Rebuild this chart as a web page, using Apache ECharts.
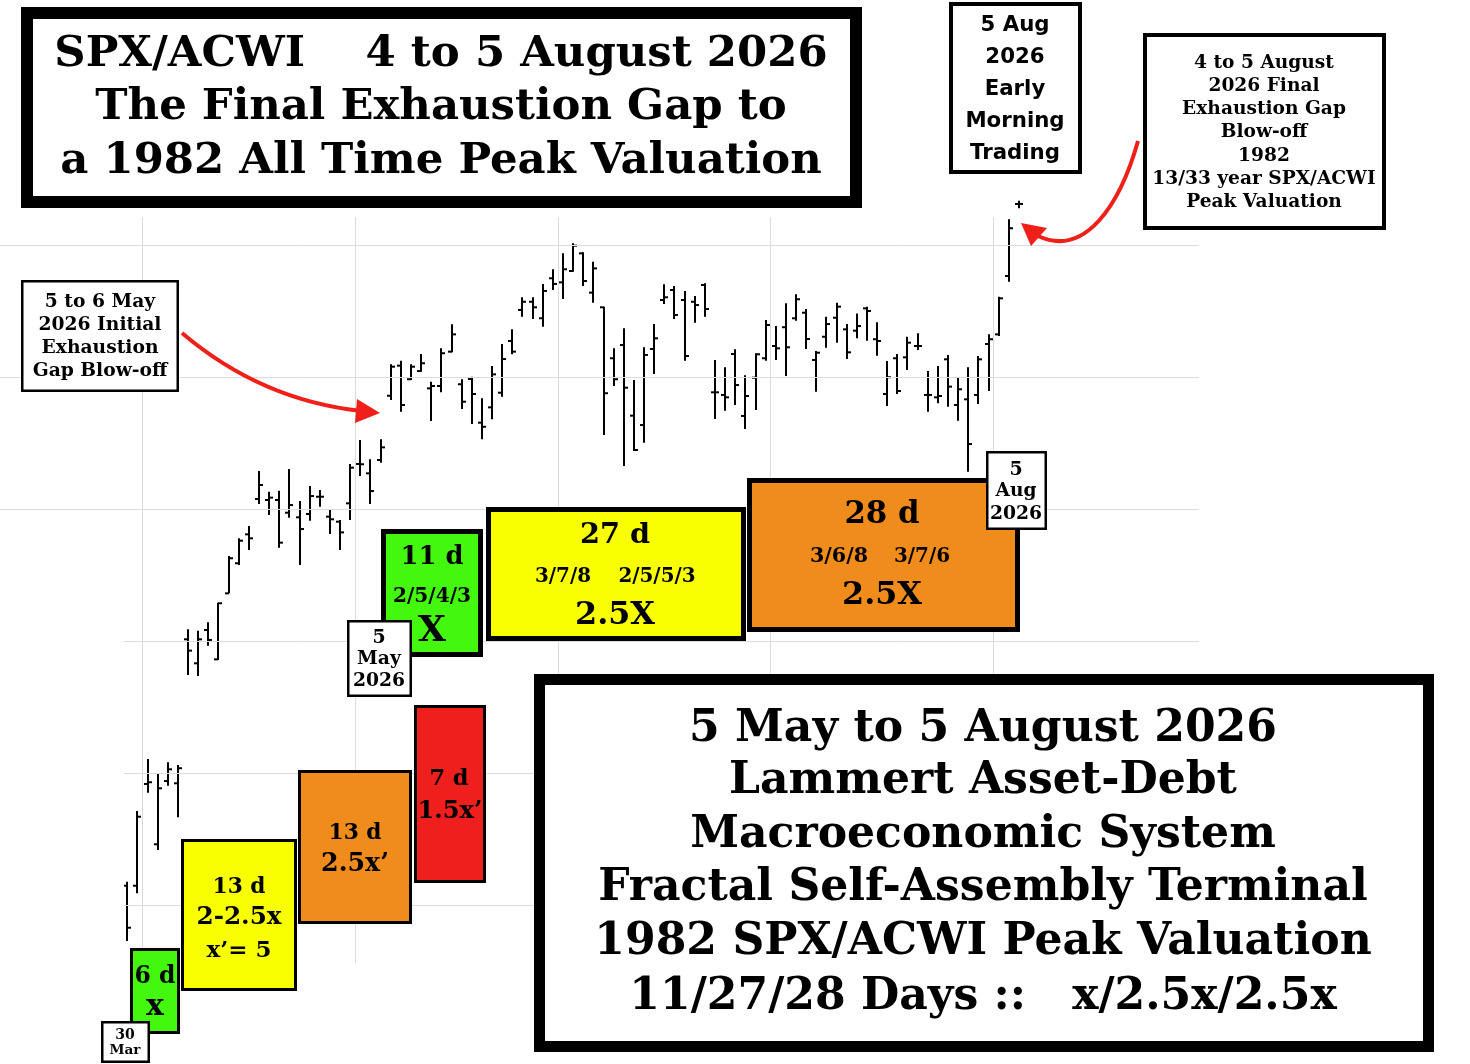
<!DOCTYPE html>
<html>
<head>
<meta charset="utf-8">
<script src="https://cdn.jsdelivr.net/npm/echarts@6/dist/echarts.min.js"></script>
<style>
html,body{margin:0;padding:0;background:#fff;}
#chart{width:1470px;height:1064px;}
</style>
</head>
<body>
<div id="chart"></div>
<script>
// ---- DATA (SPX/ACWI ratio, daily OHLC) ----
const dates = [
'2026-03-30','2026-03-31',
'2026-04-01','2026-04-02','2026-04-06','2026-04-07','2026-04-08','2026-04-09','2026-04-10','2026-04-13','2026-04-14','2026-04-15','2026-04-16','2026-04-17','2026-04-20','2026-04-21','2026-04-22','2026-04-23','2026-04-24','2026-04-27','2026-04-28','2026-04-29','2026-04-30',
'2026-05-01','2026-05-04','2026-05-05','2026-05-06','2026-05-07','2026-05-08','2026-05-11','2026-05-12','2026-05-13','2026-05-14','2026-05-15','2026-05-18','2026-05-19','2026-05-20','2026-05-21','2026-05-22','2026-05-26','2026-05-27','2026-05-28','2026-05-29',
'2026-06-01','2026-06-02','2026-06-03','2026-06-04','2026-06-05','2026-06-08','2026-06-09','2026-06-10','2026-06-11','2026-06-12','2026-06-15','2026-06-16','2026-06-17','2026-06-18','2026-06-22','2026-06-23','2026-06-24','2026-06-25','2026-06-26','2026-06-29','2026-06-30',
'2026-07-01','2026-07-02','2026-07-06','2026-07-07','2026-07-08','2026-07-09','2026-07-10','2026-07-13','2026-07-14','2026-07-15','2026-07-16','2026-07-17','2026-07-20','2026-07-21','2026-07-22','2026-07-23','2026-07-24','2026-07-27','2026-07-28','2026-07-29','2026-07-30','2026-07-31',
'2026-08-03','2026-08-04','2026-08-05'
];
const open = [
51.146,51.146,51.917,51.460,51.939,51.922,53.013,52.831,53.083,52.861,
53.361,53.589,53.808,54.076,54.068,54.068,53.972,53.937,53.962,54.093,
53.942,53.904,54.043,54.341,54.270,54.371,54.858,55.086,54.983,55.045,
54.914,54.932,55.192,54.945,54.985,54.654,54.770,54.881,55.273,55.508,
55.570,55.445,55.748,55.717,55.803,55.937,55.639,55.528,55.142,55.242,
54.707,54.636,55.212,55.583,55.659,55.583,55.570,55.697,54.884,54.864,
55.174,54.705,54.995,55.142,55.235,55.377,55.445,55.487,55.129,55.305,
55.449,55.361,55.351,55.520,55.286,54.871,55.142,55.149,55.235,54.864,
54.846,55.134,54.788,54.831,54.864,55.250,55.323,55.765,56.311
];
const high = [
51.176,51.712,52.106,51.998,52.081,52.061,53.089,53.078,53.142,53.290,
53.644,53.778,53.871,54.288,54.131,54.139,54.303,54.061,54.174,54.144,
53.998,53.917,54.341,54.523,54.377,54.528,55.096,55.123,55.096,55.174,
54.964,55.217,55.399,54.983,55.002,54.839,55.083,55.250,55.361,55.604,
55.604,55.705,55.816,55.937,56.013,55.945,55.873,55.533,55.217,55.369,
54.977,55.225,55.401,55.702,55.689,55.652,55.614,55.710,55.129,55.073,
55.210,55.013,55.180,55.432,55.386,55.558,55.627,55.515,55.197,55.457,
55.563,55.401,55.482,55.533,55.414,55.121,55.174,55.305,55.331,55.045,
55.083,55.167,54.995,55.073,55.159,55.323,55.608,56.195,56.336
];
const low = [
50.727,51.089,51.851,51.417,51.904,51.664,52.742,52.735,52.964,52.856,
53.361,53.576,53.689,54.038,53.955,53.707,53.934,53.576,53.911,54.017,
53.811,53.689,53.917,54.250,54.038,54.351,54.826,54.737,54.977,55.040,
54.667,54.884,55.187,54.758,54.644,54.528,54.680,54.851,55.172,55.457,
55.439,55.381,55.659,55.591,55.798,55.689,55.563,54.561,54.932,54.326,
54.439,54.502,55.023,55.553,55.439,55.123,55.411,55.457,54.682,54.745,
54.788,54.606,54.750,55.123,55.129,55.008,55.427,55.212,54.889,55.222,
55.260,55.136,55.293,55.275,55.161,54.780,54.871,55.053,55.205,54.737,
54.801,54.775,54.669,54.283,54.795,54.894,55.311,55.722,56.278
];
const close = [
50.828,51.669,51.930,51.884,52.028,52.036,52.927,53.013,53.008,53.286,
53.627,53.760,53.778,54.182,54.086,53.745,54.030,53.848,54.098,54.093,
53.922,53.823,54.313,54.339,54.136,54.467,55.078,54.788,55.078,55.104,
54.932,55.180,55.323,54.813,54.871,54.623,55.020,55.136,55.192,55.570,
55.528,55.652,55.705,55.816,55.995,55.727,55.823,54.877,54.983,54.919,
54.447,55.167,55.293,55.604,55.470,55.159,55.545,55.515,54.884,54.846,
54.939,54.856,55.172,55.394,55.217,55.225,55.589,55.288,55.184,55.401,
55.533,55.187,55.386,55.500,55.273,54.998,54.894,55.260,55.235,54.864,
54.856,54.927,54.907,54.492,55.134,55.286,55.596,56.127,56.311
];
const gridLevels = [51, 52, 53, 54, 55, 56];

// ---- build ----
const seriesData = dates.map((d, i) => [i, open[i], high[i], low[i], close[i], d]);
const monthLines = [];
for (let i = 1; i < dates.length; i++) {
  if (dates[i].slice(5, 7) !== dates[i - 1].slice(5, 7)) monthLines.push({ xAxis: i - 0.5 });
}

const SERIF = "'DejaVu Serif', serif";
const SANS = "'DejaVu Sans', sans-serif";
const mctx = document.createElement('canvas').getContext('2d');
function fit(str, fam, w) {
  mctx.font = 'bold 100px ' + fam;
  return 100 * w / mctx.measureText(str).width;
}
function txt(str, x, y, size, fam, z) {
  return {
    type: 'text', x: x, y: y, z: z || 120, silent: true,
    style: {
      text: str, font: 'bold ' + size.toFixed(1) + 'px ' + fam, fill: '#000',
      align: 'center', verticalAlign: 'middle', textAlign: 'center', textVerticalAlign: 'middle'
    }
  };
}
function ftxt(str, x, y, w, fam, z) { return txt(str, x, y, fit(str, fam || SERIF, w), fam || SERIF, z); }
function box(x0, y0, x1, y1, t, fill, z) {
  return {
    type: 'rect', z: z || 100, silent: true,
    shape: { x: x0 + t / 2, y: y0 + t / 2, width: x1 - x0 - t, height: y1 - y0 - t },
    style: { fill: fill, stroke: '#000', lineWidth: t }
  };
}

const RED = '#ee2019';
const graphics = [];
// mask for lower-left grid lines
graphics.push({ type: 'rect', z: 50, silent: true, shape: { x: 0, y: 560, width: 124, height: 404 }, style: { fill: '#fff' } });

// Title
graphics.push(box(21, 7, 862, 208, 12, '#fff'));
const tS = fit('The Final Exhaustion Gap to', SERIF, 692);
graphics.push(txt('SPX/ACWI    4 to 5 August 2026', 441, 55, tS, SERIF));
graphics.push(txt('The Final Exhaustion Gap to', 441, 108, tS, SERIF));
graphics.push(txt('a 1982 All Time Peak Valuation', 441, 162, tS, SERIF));

// 5 Aug early morning box
graphics.push(box(949, 2, 1082, 174, 4, '#fff'));
const sS = fit('Morning', SANS, 99);
['5 Aug', '2026', 'Early', 'Morning', 'Trading'].forEach((s, k) => graphics.push(txt(s, 1015, 25 + k * 32, sS, SANS)));

// right box
graphics.push(box(1143, 33, 1386, 230, 4, '#fff'));
const rS = fit('Peak Valuation', SERIF, 156);
['4 to 5 August', '2026 Final', 'Exhaustion Gap', 'Blow-off', '1982', '13/33 year SPX/ACWI', 'Peak Valuation']
  .forEach((s, k) => graphics.push(txt(s, 1264, 63 + k * 23.2, rS, SERIF)));

// 5 to 6 May box
graphics.push(box(21, 280, 179, 392, 2.5, '#fff'));
const mS = fit('Exhaustion', SERIF, 117);
['5 to 6 May', '2026 Initial', 'Exhaustion', 'Gap Blow-off'].forEach((s, k) => graphics.push(txt(s, 100, 302 + k * 23, mS, SERIF)));

// arrows
graphics.push({ type: 'bezierCurve', z: 110, silent: true,
  shape: { x1: 182, y1: 333, cpx1: 235, cpy1: 378, cpx2: 295, cpy2: 404, x2: 362, y2: 411 },
  style: { stroke: RED, lineWidth: 4, fill: null } });
graphics.push({ type: 'polygon', z: 110, silent: true,
  shape: { points: [[380, 413], [357, 399], [355, 423]] }, style: { fill: RED } });
graphics.push({ type: 'bezierCurve', z: 110, silent: true,
  shape: { x1: 1138, y1: 141, cpx1: 1120, cpy1: 205, cpx2: 1085, cpy2: 258, x2: 1038, y2: 236 },
  style: { stroke: RED, lineWidth: 4, fill: null } });
graphics.push({ type: 'polygon', z: 110, silent: true,
  shape: { points: [[1021, 223], [1047, 228], [1031, 246]] }, style: { fill: RED } });

// middle coloured boxes
const GREEN = '#43f80e', YEL = '#f8ff00', ORG = '#f08c1c', RBOX = '#ee1f1c';
graphics.push(box(381, 529, 483, 657, 5, GREEN));
graphics.push(ftxt('11 d', 432, 557, 63));
graphics.push(ftxt('2/5/4/3', 432, 597, 78));
graphics.push(txt('X', 432, 632, 36, SERIF));
graphics.push(box(486, 507, 746, 641, 5, YEL));
graphics.push(ftxt('27 d', 615, 536, 70));
graphics.push(ftxt('3/7/8', 563, 577, 56));
graphics.push(ftxt('2/5/5/3', 657, 577, 77));
graphics.push(ftxt('2.5X', 615, 616, 80));
graphics.push(box(747, 478, 1020, 632, 5, ORG));
graphics.push(ftxt('28 d', 882, 515, 75));
graphics.push(ftxt('3/6/8', 839, 557, 58));
graphics.push(ftxt('3/7/6', 922, 557, 56));
graphics.push(ftxt('2.5X', 882, 596, 80));
graphics.push(box(347, 620, 412, 697, 2.5, '#fff', 130));
graphics.push(txt('5', 379, 638, 19, SERIF, 135));
graphics.push(ftxt('May', 379, 659, 44, SERIF, 135));
graphics.push(ftxt('2026', 379, 681, 52, SERIF, 135));
graphics.push(box(986, 451, 1047, 530, 2.5, '#fff', 130));
graphics.push(txt('5', 1016, 470, 19, SERIF, 135));
graphics.push(ftxt('Aug', 1016, 491, 41, SERIF, 135));
graphics.push(ftxt('2026', 1016, 514, 52, SERIF, 135));

// lower-left boxes
graphics.push(box(130, 948, 180, 1034, 3, GREEN));
graphics.push(ftxt('6 d', 155, 977, 41));
graphics.push(txt('x', 155, 1007, 30, SERIF));
graphics.push(box(101, 1021, 150, 1063, 2.5, '#fff', 130));
graphics.push(txt('30', 125, 1035, 14, SERIF, 135));
graphics.push(ftxt('Mar', 125, 1050, 31, SERIF, 135));
graphics.push(box(181, 839, 297, 991, 3, YEL));
graphics.push(ftxt('13 d', 239, 887, 53));
graphics.push(ftxt('2-2.5x', 239, 918, 85));
graphics.push(ftxt('x\u2019= 5', 239, 951, 65));
graphics.push(box(298, 770, 412, 924, 3, ORG));
graphics.push(ftxt('13 d', 355, 833, 53));
graphics.push(ftxt('2.5x\u2019', 355, 864, 68));
graphics.push(box(414, 705, 486, 883, 3, RBOX));
graphics.push(ftxt('7 d', 449, 779, 39));
graphics.push(ftxt('1.5x\u2019', 450, 812, 65));

// big bottom box
graphics.push(box(534, 674, 1434, 1052, 11, '#fff'));
const bS = fit('Fractal Self-Assembly Terminal', SERIF, 770);
['5 May to 5 August 2026', 'Lammert Asset-Debt', 'Macroeconomic System', 'Fractal Self-Assembly Terminal',
 '1982 SPX/ACWI Peak Valuation', '11/27/28 Days ::   x/2.5x/2.5x']
  .forEach((s, k) => graphics.push(txt(s, 983, [730, 782, 836, 889, 943, 998][k], bS, SERIF)));

const chart = echarts.init(document.getElementById('chart'));
chart.setOption({
  animation: false,
  backgroundColor: '#fff',
  grid: { left: 0, right: 271, top: 217, bottom: 101 },
  xAxis: { type: 'value', min: -12.563, max: 105.77, show: false, splitLine: { show: false } },
  yAxis: { type: 'value', min: 6674 / 132, max: 7420 / 132, show: false, splitLine: { show: false } },
  graphic: { elements: graphics },
  series: [{
    type: 'custom',
    name: 'SPX/ACWI',
    clip: false,
    encode: { x: 0, y: [1, 2, 3, 4] },
    data: seriesData,
    renderItem: function (params, api) {
      const i = api.value(0);
      const o = api.coord([i, api.value(1)]);
      const h = api.coord([i, api.value(2)]);
      const l = api.coord([i, api.value(3)]);
      const c = api.coord([i, api.value(4)]);
      const x = Math.round(h[0]);
      const st = { stroke: '#000', lineWidth: 2 };
      return {
        type: 'group',
        children: [
          { type: 'line', shape: { x1: x, y1: h[1], x2: x, y2: l[1] }, style: st },
          { type: 'line', shape: { x1: x - 4, y1: o[1], x2: x, y2: o[1] }, style: st },
          { type: 'line', shape: { x1: x, y1: c[1], x2: x + 4, y2: c[1] }, style: st }
        ]
      };
    },
    markLine: {
      silent: true, symbol: ['none', 'none'], animation: false,
      label: { show: false },
      lineStyle: { color: '#dcdcdc', width: 1, type: 'solid' },
      data: gridLevels.map(v => ({ yAxis: v })).concat(monthLines)
    }
  }]
});
</script>
</body>
</html>
